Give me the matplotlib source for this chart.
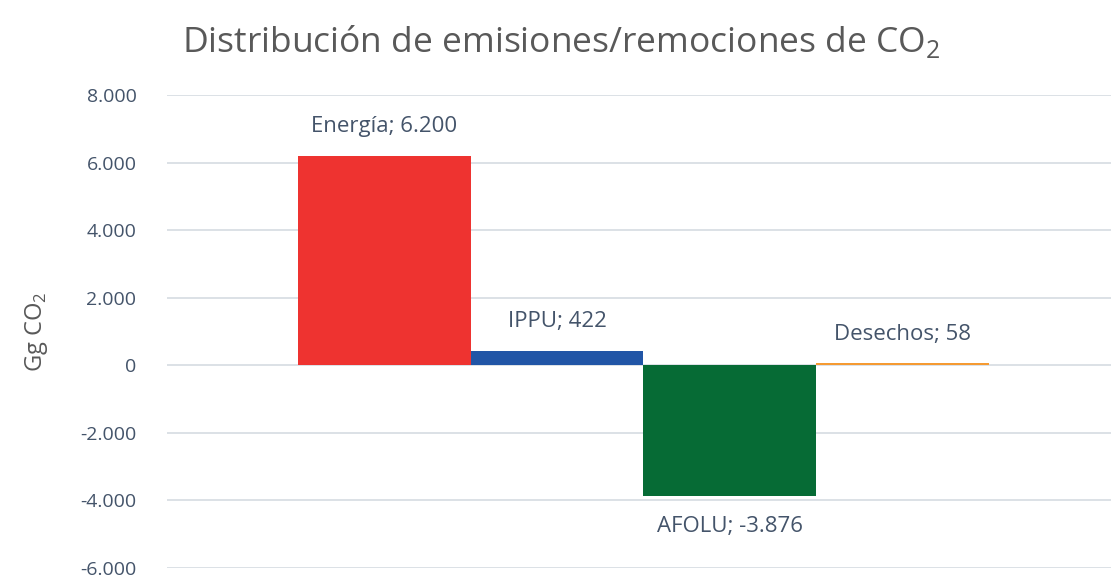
import matplotlib.pyplot as plt
from matplotlib.ticker import FuncFormatter

plt.rcParams['font.family'] = ['Open Sans', 'DejaVu Sans']
plt.rcParams['mathtext.fontset'] = 'custom'
plt.rcParams['mathtext.rm'] = 'Open Sans'

sectors = ['Energía', 'IPPU', 'AFOLU', 'Desechos']
values = [6200, 422, -3876, 58]
colors = ['#EE3330', '#2155A6', '#066B35', '#F59A32']
yticks = [-6000, -4000, -2000, 0, 2000, 4000, 6000, 8000]

def fmt(v):
    return f"{v:,.0f}".replace(",", ".")

fig = plt.figure(figsize=(11.11, 5.81), dpi=100)
ax = fig.add_axes([167 / 1111, 1 - 568 / 581, (1111 - 167) / 1111, (568 - 95) / 581])

pos = [-1.5, -0.5, 0.5, 1.5]
bars = ax.bar(pos, values, width=1.0, color=colors, zorder=3)

for b, name, v in zip(bars, sectors, values):
    x = b.get_x() + b.get_width() / 2
    off = 21 if v >= 0 else -22
    ax.annotate(f"{name}; {fmt(v)}", (x, v), xytext=(0, off), textcoords='offset points',
                ha='center', va='center', fontsize=16, color='#44546A')

ax.set_xlim(-2.757, 2.705)
ax.set_ylim(-6000, 8000)
ax.set_yticks(yticks)
ax.yaxis.set_major_formatter(FuncFormatter(lambda v, p: fmt(v)))
ax.set_xticks([])
ax.grid(axis='y', color='#D9DEE4', linewidth=1.3, zorder=0)
for s in ax.spines.values():
    s.set_visible(False)
ax.tick_params(axis='y', length=0, pad=22, labelsize=14, labelcolor='#44546A')

ax.set_ylabel('Gg CO$_2$', fontsize=17, color='#595959', labelpad=22)
fig.text(0.505, 0.928, 'Distribución de emisiones/remociones de CO$_2$',
         ha='center', va='center', fontsize=25.5, color='#595959')

fig.savefig('out.png', dpi=100)
